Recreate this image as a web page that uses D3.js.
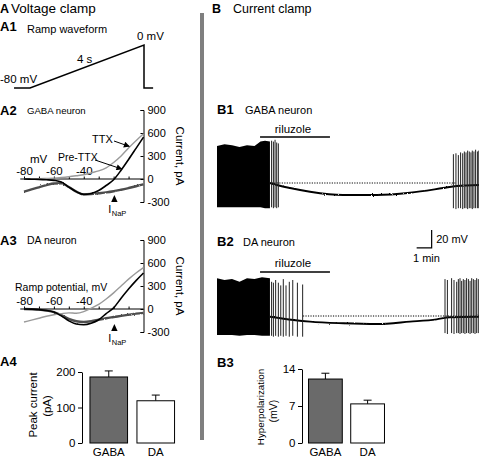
<!DOCTYPE html>
<html><head><meta charset="utf-8">
<script src="https://cdn.jsdelivr.net/npm/d3@7"></script>
<style>
body{margin:0;background:#fff}
svg{display:block}
text{font-family:"Liberation Sans",Arial,Helvetica,sans-serif;fill:#000}
</style>
</head><body>
<svg id="c" width="479" height="458"></svg>
<script>
// ---------------- DATA ----------------
// A1 ramp waveform (time s, membrane command mV)
const rampTime = [-0.56, 0, 4, 4, 4.32];
const rampVolt = [-80, -80, 0, -80, -80];

// A2/A3 I-V ramp currents (ramp potential mV -> current pA)
const ivVoltage = [-80,-75,-70,-65,-60,-55,-50,-45,-40,-35,-30,-25,-20,-15,-10,-5,0];
const ivCurrentTicks = [900,600,300,0,-300];
const ivVoltLabels = [-80,-60,-40];
const ivVoltTicks = [-80,-70,-60,-50,-40,-30,-20,-10];
const gabaTTX = [0,2,5,8,12,20,30,42,55,80,105,145,215,300,405,500,590];
const gabaPre = [0,-3,-5,-10,-18,-40,-105,-165,-200,-188,-150,-85,-10,115,255,400,546];
const gabaNaP = [-165,-135,-108,-80,-58,-55,-105,-165,-200,-195,-185,-175,-160,-140,-118,-95,-70];
const daTTX = [-170,-145,-120,-95,-75,-60,-50,-55,-35,10,60,130,210,300,390,470,540];
const daPre = [0,-2,-8,-20,-40,-90,-155,-195,-205,-185,-140,-60,15,140,260,370,470];
const daNaP = [0,-3,-8,-20,-40,-80,-130,-160,-170,-160,-140,-120,-105,-90,-75,-60,-50];

// A4 / B3 bar charts
const barCategories = ["GABA", "DA"];
const peakCurrent = [186, 119];
const peakCurrentErr = [17, 16];
const peakTicks = [0, 100, 200];
const hyperpol = [12.1, 7.4];
const hyperpolErr = [1.1, 0.7];
const hyperTicks = [0, 7, 14];

// B1/B2 current-clamp traces (time min, membrane potential mV)
const riluzole = [2.87, 7.53];
const restV = -50;
const gabaBurstT = [0, 0.5, 1.0, 1.5, 2.0, 2.5, 2.9, 3.2, 3.53];
const gabaBurstTop = [-9, -7, -8, -10, -8, -9, -4, -3, -4];
const gabaBurstBottom = [-77, -77, -77, -77, -77, -77, -77, -78, -78];
const gabaSpikeT = [3.64, 3.76, 3.87, 3.98, 4.09, 15.76, 15.93, 16.09, 16.24, 16.38, 16.49, 16.6, 16.71, 16.82, 16.93, 17.02, 17.13, 17.24, 17.36, 17.45];
const gabaSpikePeak = [-3, -4, -2, -5, -6, -18, -17, -19, -16, -17, -15, -16, -14, -15, -16, -14, -15, -13, -15, -14];
const gabaSpikeTrough = [-77, -78, -77, -78, -77, -78, -79, -78, -78, -79, -78, -78, -79, -78, -78, -79, -78, -78, -78, -78];
const gabaBaseT = [3.53, 3.98, 4.87, 6.2, 8.4, 10.65, 12.87, 15.07, 15.98, 17.5];
const gabaBaseV = [-50, -52.2, -55.6, -59.7, -63.3, -63.3, -60.8, -55.6, -53.3, -52.2];
const gabaDotted = [3.65, 15.98];

const daBurstT = [0, 0.5, 1.0, 1.5, 2.0, 2.5, 3.0, 3.53];
const daBurstTop = [-8, -10, -9, -12, -8, -9, -7, -8];
const daBurstBottom = [-71, -71, -71, -72, -71, -71, -72, -72];
const daSpikeT = [3.64, 3.76, 3.91, 4.09, 4.25, 4.42, 4.6, 4.82, 5.05, 5.36, 5.71, 15.2, 15.36, 15.64, 15.8, 15.98, 16.09, 16.2, 16.31, 16.42, 16.53, 16.64, 16.76, 16.87, 16.98, 17.09, 17.2, 17.31, 17.42];
const daSpikePeak = [-12, -13, -10, -13, -16, -9, -16, -12, -10, -13, -15, -9, -10, -8, -10, -12, -9, -8, -11, -9, -10, -8, -9, -11, -8, -9, -10, -8, -9];
const daSpikeTrough = [-72, -73, -72, -73, -72, -73, -72, -73, -72, -73, -73, -69, -70, -69, -70, -69, -69, -70, -69, -69, -70, -69, -69, -70, -69, -69, -70, -69, -69];
const daBaseT = [3.53, 5.09, 6.2, 8.42, 10.65, 12.87, 14.64, 15.53, 17.5];
const daBaseV = [-50.8, -54.4, -56.3, -58.1, -58.9, -56.3, -53.7, -51.4, -50.8];
const daDotted = [5.73, 17.5];

// ---------------- DRAW ----------------
const svg = d3.select("#c");
const FONT = '"Liberation Sans", Arial, Helvetica, sans-serif';
function label(x, y, str, size, opt = {}) {
  const t = svg.append("text").attr("x", x).attr("y", y).text(str)
    .style("font-size", size + "px").style("font-family", FONT).attr("fill", "#000");
  if (opt.bold) t.style("font-weight", "bold");
  if (opt.anchor) t.attr("text-anchor", opt.anchor);
  if (opt.rotate !== undefined) t.attr("x", 0).attr("y", 0).attr("transform", `translate(${x},${y}) rotate(${opt.rotate})`);
  return t;
}

// headers
label(0, 13, "A", 12.5, {bold: true});
label(11, 13, "Voltage clamp", 13.5);
label(212, 13, "B", 12.5, {bold: true});
label(233, 13, "Current clamp", 12.5);

// separator
svg.append("rect").attr("x", 200).attr("y", 13).attr("width", 4).attr("height", 427).attr("fill", "#7f7f7f");

// ---- A1 ramp ----
label(0, 31, "A1", 13, {bold: true});
label(27, 33, "Ramp waveform", 11);
{
  const xs = d3.scaleLinear().domain([0, 4]).range([30, 144]);
  const ys = d3.scaleLinear().domain([-80, 0]).range([88, 45]);
  const line = d3.line().x(d => xs(d[0])).y(d => ys(d[1]));
  svg.append("path").attr("d", line(rampTime.map((t, i) => [t, rampVolt[i]])))
    .attr("fill", "none").attr("stroke", "#000").attr("stroke-width", 1.5);
  label(0, 83, "-80 mV", 11.5);
  label(77, 63, "4 s", 11.5);
  label(137, 40, "0 mV", 11.5);
}

// noise filter for raw-looking traces + arrow marker
const defs = svg.append("defs");
const f = defs.append("filter").attr("id", "noise").attr("x", "-5%").attr("y", "-30%").attr("width", "110%").attr("height", "160%");
f.append("feTurbulence").attr("type", "fractalNoise").attr("baseFrequency", "0.9").attr("numOctaves", 1).attr("seed", 3).attr("result", "t");
f.append("feDisplacementMap").attr("in", "SourceGraphic").attr("in2", "t").attr("scale", 2.2).attr("xChannelSelector", "R").attr("yChannelSelector", "G");
defs.append("marker").attr("id", "arr").attr("viewBox", "0 0 10 10").attr("refX", 9).attr("refY", 5)
  .attr("markerWidth", 7).attr("markerHeight", 6).attr("orient", "auto")
  .append("path").attr("d", "M0,0 L10,5 L0,10 Z").attr("fill", "#000");

// ---- A2 / A3 IV panels ----
function ivPanel(yTop, pre, ttx, nap, opts) {
  const x = d3.scaleLinear().domain([-80, 0]).range([24, 143.5]);
  const y = d3.scaleLinear().domain([-300, 900]).range([yTop + 92, yTop]);
  const g = svg.append("g");
  g.append("line").attr("x1", x(-82.5)).attr("x2", x(0)).attr("y1", y(0)).attr("y2", y(0))
    .attr("stroke", "#000").attr("stroke-width", 1);
  const xa = g.append("g").attr("transform", `translate(0,${y(0)})`)
    .call(d3.axisTop(x).tickValues(ivVoltTicks).tickSizeInner(2.5).tickSizeOuter(0).tickPadding(1.5)
      .tickFormat(d => ivVoltLabels.includes(d) ? String(d) : ""));
  xa.select(".domain").remove();
  xa.selectAll("text").style("font-size", "11.5px").style("font-family", FONT).attr("fill", "#000");
  xa.selectAll("line").attr("stroke", "#000");
  const ya = g.append("g").attr("transform", `translate(${x(0)},0)`)
    .call(d3.axisRight(y).tickValues(ivCurrentTicks).tickSizeInner(-3).tickSizeOuter(-3).tickPadding(4)
      .tickFormat(d => String(d)));
  ya.selectAll("text").style("font-size", "11px").style("font-family", FONT).attr("fill", "#000");
  ya.selectAll("line,path").attr("stroke", "#000");
  const ln = arr => d3.line().x((d, i) => x(ivVoltage[i])).y(d => y(d)).curve(d3.curveMonotoneX)(arr);
  g.append("path").attr("d", ln(nap)).attr("fill", "none").attr("stroke", "#4d4d4d").attr("stroke-width", 2.4)
    .attr("filter", "url(#noise)");
  g.append("path").attr("d", ln(ttx)).attr("fill", "none").attr("stroke", "#9a9a9a").attr("stroke-width", 1.4);
  g.append("path").attr("d", ln(pre)).attr("fill", "none").attr("stroke", "#000").attr("stroke-width", 1.6);
  // I_NaP marker
  const tx = x(-19.5), ty = y(opts.triTop);
  g.append("path").attr("d", `M${tx},${ty} L${tx + 3.2},${ty + 7} L${tx - 3.2},${ty + 7}Z`).attr("fill", "#000");
  label(tx - 6, ty + 18, "I", 11);
  label(tx - 2.6, ty + 21, "NaP", 7.5);
  label(x(0) + 32.5, (y(900) + y(-300)) / 2, "Current, pA", 11.5, {rotate: 90, anchor: "middle"});
  return {x, y, g};
}

label(0, 115, "A2", 13, {bold: true});
label(27, 114, "GABA neuron", 9.6);
{
  const p = ivPanel(110, gabaPre, gabaTTX, gabaNaP, {triTop: -210});
  label(30, 163, "mV", 11.5);
  label(92, 143, "TTX", 11);
  label(58, 161, "Pre-TTX", 10.5);
  p.g.append("line").attr("x1", 114).attr("y1", 141).attr("x2", p.x(-9.5)).attr("y2", p.y(425))
    .attr("stroke", "#000").attr("stroke-width", 1).attr("marker-end", "url(#arr)");
  p.g.append("line").attr("x1", 95).attr("y1", 160).attr("x2", p.x(-14.5)).attr("y2", p.y(130))
    .attr("stroke", "#000").attr("stroke-width", 1).attr("marker-end", "url(#arr)");
}

label(0, 245, "A3", 13, {bold: true});
label(27, 244, "DA neuron", 10.5);
{
  ivPanel(240, daPre, daTTX, daNaP, {triTop: -195});
  label(15, 291, "Ramp potential, mV", 10.5);
}

// ---- bar charts ----
function barPanel(range, yRange, domainMax, vals, errs, ticks, ax) {
  const x = d3.scaleBand().domain(barCategories).range(range).paddingInner(0.2).paddingOuter(0.1);
  const y = d3.scaleLinear().domain([0, domainMax]).range(yRange);
  const g = svg.append("g");
  const a = g.append("g").attr("transform", `translate(${ax},0)`)
    .call(d3.axisLeft(y).tickValues(ticks).tickSizeInner(4).tickSizeOuter(0).tickPadding(2.5));
  a.selectAll("text").style("font-size", "11.5px").style("font-family", FONT).attr("fill", "#000");
  a.selectAll("line,path").attr("stroke", "#000");
  barCategories.forEach((c, i) => {
    const cx = x(c) + x.bandwidth() / 2;
    g.append("line").attr("x1", cx).attr("x2", cx).attr("y1", y(vals[i])).attr("y2", y(vals[i] + errs[i])).attr("stroke", "#000");
    g.append("line").attr("x1", cx - 4).attr("x2", cx + 4).attr("y1", y(vals[i] + errs[i])).attr("y2", y(vals[i] + errs[i])).attr("stroke", "#000");
  });
  g.selectAll("rect.bar").data(barCategories).enter().append("rect")
    .attr("x", d => x(d)).attr("width", x.bandwidth())
    .attr("y", (d, i) => y(vals[i])).attr("height", (d, i) => y(0) - y(vals[i]))
    .attr("fill", (d, i) => i === 0 ? "#6a6a6a" : "#fff").attr("stroke", "#000").attr("stroke-width", 1);
  barCategories.forEach(c => {
    label(x(c) + x.bandwidth() / 2, 456, c, 11.5, {anchor: "middle"});
  });
  return {x, y};
}
label(0, 366, "A4", 13, {bold: true});
barPanel([85.25, 179.25], [443, 372], 200, peakCurrent, peakCurrentErr, peakTicks, 82);
label(37, 405, "Peak current", 11.5, {rotate: -90, anchor: "middle"});
label(50.5, 406, "(pA)", 11.5, {rotate: -90, anchor: "middle"});

label(217, 367, "B3", 13, {bold: true});
barPanel([304.3, 388.7], [443, 369], 14, hyperpol, hyperpolErr, hyperTicks, 302);
label(263.5, 407, "Hyperpolarization", 9.8, {rotate: -90, anchor: "middle"});
label(276.5, 411, "(mV)", 10.5, {rotate: -90, anchor: "middle"});

// ---- B1 / B2 traces ----
const xt = d3.scaleLinear().domain([0, 1]).range([217, 232]); // 15 px per min
function tracePanel(yRest, burstT, burstTop, burstBot, spT, spPk, spTr, baseT, baseV, dotted, rilY) {
  const yv = d3.scaleLinear().domain([restV, restV + 20]).range([yRest, yRest - 18]);
  const g = svg.append("g");
  g.append("path").attr("d", d3.line().x((d, i) => xt(baseT[i])).y(d => yv(d)).curve(d3.curveMonotoneX)(baseV))
    .attr("fill", "none").attr("stroke", "#000").attr("stroke-width", 1.9).attr("filter", "url(#noise)");
  g.append("line").attr("x1", xt(dotted[0])).attr("x2", xt(dotted[1])).attr("y1", yv(restV)).attr("y2", yv(restV))
    .attr("stroke", "#000").attr("stroke-width", 1).attr("stroke-dasharray", "1.2,1.3");
  g.append("path").attr("d", d3.area().x((d, i) => xt(burstT[i])).y0((d, i) => yv(burstBot[i])).y1(d => yv(d))(burstTop))
    .attr("fill", "#000");
  g.selectAll("line.sp").data(spT).enter().append("line")
    .attr("x1", d => xt(d)).attr("x2", d => xt(d))
    .attr("y1", (d, i) => yv(spPk[i])).attr("y2", (d, i) => yv(spTr[i]))
    .attr("stroke", "#222").attr("stroke-width", 1);
  g.append("line").attr("x1", xt(riluzole[0])).attr("x2", xt(riluzole[1])).attr("y1", yv(rilY)).attr("y2", yv(rilY))
    .attr("stroke", "#000").attr("stroke-width", 1.5);
  label(xt((riluzole[0] + riluzole[1]) / 2) - 2, yv(rilY) - 4.5, "riluzole", 11.5, {anchor: "middle"});
  return yv;
}
label(217, 114, "B1", 13, {bold: true});
label(245, 114, "GABA neuron", 11);
tracePanel(183, gabaBurstT, gabaBurstTop, gabaBurstBottom, gabaSpikeT, gabaSpikePeak, gabaSpikeTrough, gabaBaseT, gabaBaseV, gabaDotted, 1);

label(217, 246, "B2", 13, {bold: true});
label(243, 246, "DA neuron", 11);
{
  const yv = tracePanel(316, daBurstT, daBurstTop, daBurstBottom, daSpikeT, daSpikePeak, daSpikeTrough, daBaseT, daBaseV, daDotted, -1);
  const t1 = 14.31, v0 = 25.6;
  svg.append("path").attr("d", `M${xt(t1 - 1)},${yv(v0)} H${xt(t1)} V${yv(v0 + 20)}`)
    .attr("fill", "none").attr("stroke", "#000").attr("stroke-width", 1.2);
  label(xt(t1) + 4.5, 243, "20 mV", 11);
  label(413, 262, "1 min", 11);
}
</script>
</body></html>
